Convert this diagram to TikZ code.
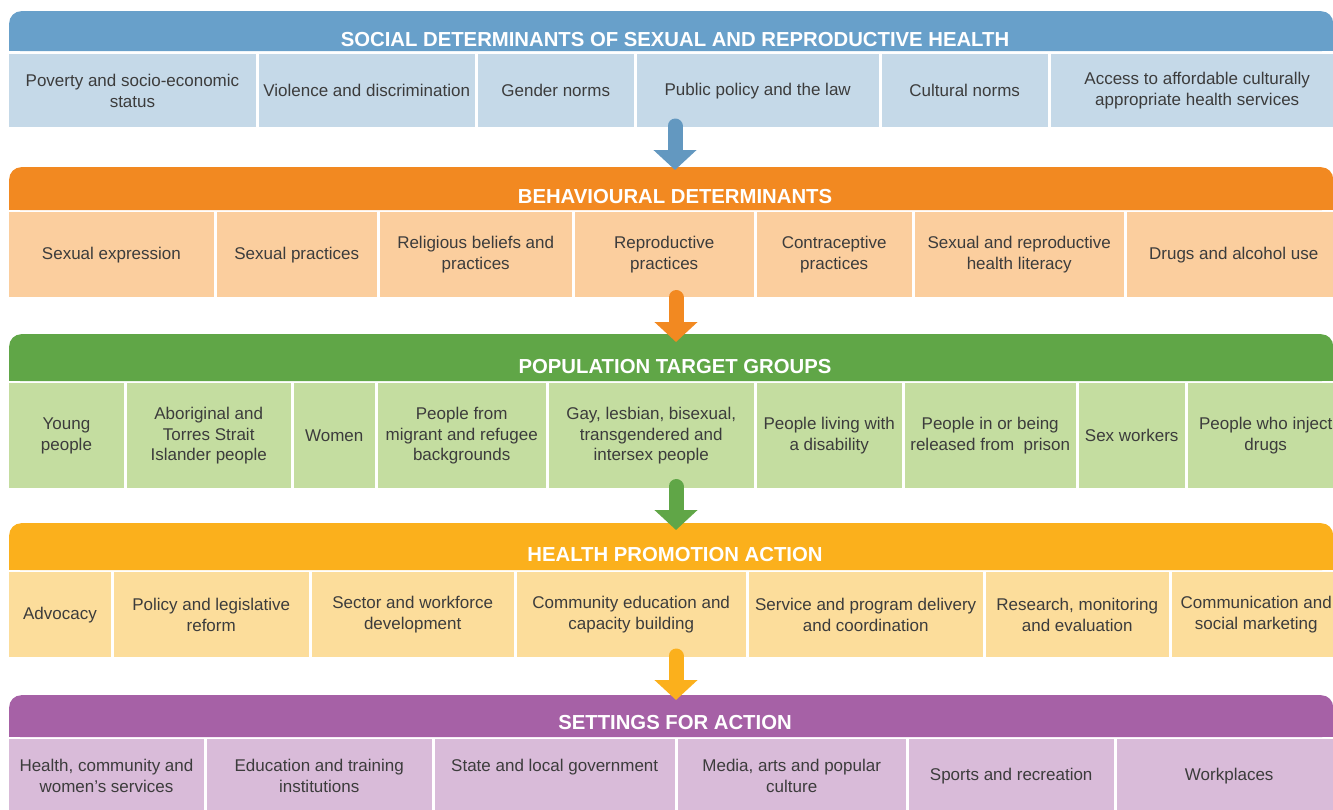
\documentclass[tikz,border=0pt]{standalone}
\usepackage{fontspec}
\setmainfont{Liberation Sans}
\usetikzlibrary{arrows.meta}
\definecolor{sdblue}{RGB}{104,160,202}
\definecolor{sdbluelt}{RGB}{197,217,232}
\definecolor{sdorange}{RGB}{242,137,33}
\definecolor{sdorangelt}{RGB}{251,206,158}
\definecolor{sdgreen}{RGB}{96,166,71}
\definecolor{sdgreenlt}{RGB}{196,221,160}
\definecolor{sdyellow}{RGB}{251,176,28}
\definecolor{sdyellowlt}{RGB}{252,221,155}
\definecolor{sdpurple}{RGB}{166,97,166}
\definecolor{sdpurplelt}{RGB}{217,187,217}
\definecolor{txtgray}{RGB}{60,60,60}

\tikzset{
  hdr/.style={anchor=north west, minimum width=1324, minimum height=#1,
    inner sep=0, rounded corners=12},
  hdrtxt/.style={text=white, font=\bfseries\fontsize{20.3}{23}\selectfont},
  cell/.style={anchor=north west, inner sep=2pt, align=center, text=txtgray,
    font=\fontsize{17}{20.8}\selectfont},
  flow/.style={line width=15, line cap=round, -{Triangle[length=20pt,width=42pt]}}
}

\begin{document}
\begin{tikzpicture}[x=1pt, y=-1pt]
  \useasboundingbox (0,0) rectangle (1333,809);

  % Social determinants
  \node[hdr=40, fill=sdblue] (h1) at (9,11) {};
  \fill[sdblue] (h1.west) rectangle (h1.south east);
  \node[hdrtxt] (t1) at (675,40) {SOCIAL DETERMINANTS OF SEXUAL AND REPRODUCTIVE HEALTH};
  \foreach \a/\b/\txt [count=\i] in {7.5/257/{Poverty and socio-economic\\status},
      257/476/{Violence and discrimination}, 476/635/{Gender norms},
      635/880/{Public policy and the law}, 880/1049/{Cultural norms},
      1049/1345/{Access to affordable culturally\\appropriate health services}}
    \node[cell, fill=sdbluelt, minimum width=\b-\a-3, minimum height=73] (sdet\i) at (\a+1.5,54) {\txt};

  % Behavioural determinants
  \node[hdr=43, fill=sdorange] (h2) at (9,167) {};
  \fill[sdorange] (h2.west) rectangle (h2.south east);
  \node[hdrtxt] (t2) at (675,197) {BEHAVIOURAL DETERMINANTS};
  \foreach \a/\b/\txt [count=\i] in {7.5/215/{Sexual expression},
      215/378/{Sexual practices}, 378/573/{Religious beliefs and\\practices},
      573/755/{Reproductive\\practices}, 755/913/{Contraceptive\\practices},
      913/1125/{Sexual and reproductive\\health literacy},
      1125/1342/{Drugs and alcohol use}}
    \node[cell, fill=sdorangelt, minimum width=\b-\a-3, minimum height=85] (beh\i) at (\a+1.5,212) {\txt};

  % Population target groups
  \node[hdr=47, fill=sdgreen] (h3) at (9,334) {};
  \fill[sdgreen] (h3.west) rectangle (h3.south east);
  \node[hdrtxt] (t3) at (675,367) {POPULATION TARGET GROUPS};
  \foreach \a/\b/\txt [count=\i] in {7.5/125/{Young\\people},
      125/292/{Aboriginal and\\Torres Strait\\Islander people}, 292/376/{Women},
      376/547/{People from\\migrant and refugee\\backgrounds},
      547/755/{Gay, lesbian, bisexual,\\transgendered and\\intersex people},
      755/903/{People living with\\a disability},
      903/1077/{People in or being\\released from \ prison},
      1077/1186/{Sex workers}, 1186/1345/{People who inject\\drugs}}
    \node[cell, fill=sdgreenlt, minimum width=\b-\a-3, minimum height=105] (pop\i) at (\a+1.5,383) {\txt};

  % Health promotion action
  \node[hdr=47, fill=sdyellow] (h4) at (9,523) {};
  \fill[sdyellow] (h4.west) rectangle (h4.south east);
  \node[hdrtxt] (t4) at (675,555) {HEALTH PROMOTION ACTION};
  \foreach \a/\b/\txt [count=\i] in {7.5/112/{Advocacy},
      112/310/{Policy and legislative\\reform},
      310/515/{Sector and workforce\\development},
      515/747/{Community education and\\capacity building},
      747/984/{Service and program delivery\\and coordination},
      984/1170/{Research, monitoring\\and evaluation},
      1170/1342/{Communication and\\social marketing}}
    \node[cell, fill=sdyellowlt, minimum width=\b-\a-3, minimum height=85] (act\i) at (\a+1.5,572) {\txt};

  % Settings for action
  \node[hdr=42, fill=sdpurple] (h5) at (9,695) {};
  \fill[sdpurple] (h5.west) rectangle (h5.south east);
  \node[hdrtxt] (t5) at (675,723) {SETTINGS FOR ACTION};
  \foreach \a/\b/\txt [count=\i] in {7.5/205/{Health, community and\\women's services},
      205/433/{Education and training\\institutions},
      433/676/{State and local government\\\phantom{x}},
      676/907/{Media, arts and popular\\culture},
      907/1115/{Sports and recreation}, 1115/1343/{Workplaces}}
    \node[cell, fill=sdpurplelt, minimum width=\b-\a-3, minimum height=73] (setg\i) at (\a+1.5,739) {\txt};

  % Arrows between the bands
  \coordinate (a1) at (675,126);
  \coordinate (a2) at (676,297.5);
  \coordinate (a3) at (676,486.5);
  \coordinate (a4) at (676,656);
  \draw[flow, sdblue!95!black, shorten >=-3pt] (a1) -- (a1 |- h2.north);
  \draw[flow, sdorange, shorten >=-8pt] (a2) -- (a2 |- h3.north);
  \draw[flow, sdgreen, shorten >=-7pt] (a3) -- (a3 |- h4.north);
  \draw[flow, sdyellow, shorten >=-5pt] (a4) -- (a4 |- h5.north);
\end{tikzpicture}
\end{document}
